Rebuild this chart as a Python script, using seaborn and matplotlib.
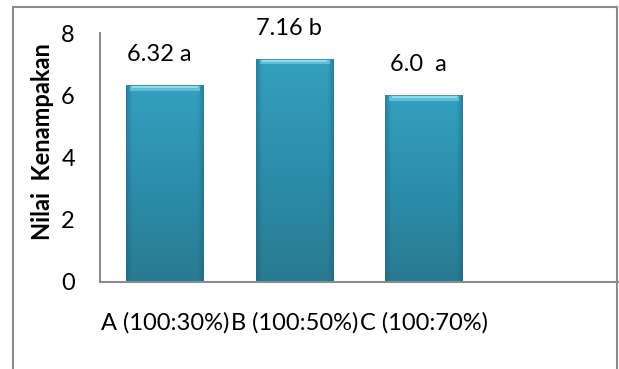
import matplotlib
matplotlib.use("Agg")
import matplotlib.pyplot as plt
import numpy as np
import pandas as pd
import seaborn as sns
from matplotlib.patches import Rectangle
from matplotlib.colors import LinearSegmentedColormap

categories = ["A (100:30%)", "B (100:50%)", "C (100:70%)"]
values = [6.32, 7.16, 6.0]
bar_labels = ["6.32 a", "7.16 b", "6.0  a"]
yticks = [0, 2, 4, 6, 8]
ylabel = "Nilai  Kenampakan"

sns.set_theme(style="white")
plt.rcParams["font.family"] = ["Lato", "DejaVu Sans"]

fig = plt.figure(figsize=(6.19, 3.69), dpi=100)
ax = fig.add_axes([100 / 619, 87 / 369, 519 / 619, 249 / 369])

df = pd.DataFrame({"cat": categories, "val": values})
sns.barplot(data=df, x="cat", y="val", ax=ax, color="#2c8eab", width=0.6,
            saturation=1, edgecolor="none")

# vertical gradient inside each bar
cmap = LinearSegmentedColormap.from_list("g", ["#297a91", "#2c8eab", "#34a0bf"])
grad = np.linspace(0, 1, 256).reshape(-1, 1)
hgrad = np.linspace(0, 1, 256).reshape(1, -1)
side = LinearSegmentedColormap.from_list(
    "s", [(0, (0.12, 0.35, 0.45, 0.45)), (0.08, (0.12, 0.35, 0.45, 0.0)),
          (0.92, (0.12, 0.35, 0.45, 0.0)), (1, (0.12, 0.35, 0.45, 0.45))])
for p in list(ax.patches):
    x0, y0 = p.get_x(), p.get_y()
    w, h = p.get_width(), p.get_height()
    im = ax.imshow(grad, cmap=cmap, origin="lower", aspect="auto",
                   extent=[x0, x0 + w, y0, y0 + h], zorder=p.get_zorder() + 0.1)
    im.set_clip_path(p)
    im2 = ax.imshow(hgrad, cmap=side, origin="lower", aspect="auto",
                    extent=[x0, x0 + w, y0, y0 + h], zorder=p.get_zorder() + 0.15)
    im2.set_clip_path(p)
    # light bevel at top
    ax.add_patch(Rectangle((x0 + w * 0.05, y0 + h - 0.17), w * 0.90, 0.15,
                           facecolor="#5cc0da", edgecolor="none",
                           zorder=p.get_zorder() + 0.2))
    ax.add_patch(Rectangle((x0 + w * 0.08, y0 + h - 0.08), w * 0.84, 0.06,
                           facecolor="#8fdcef", edgecolor="none",
                           zorder=p.get_zorder() + 0.25))

bars = ax.patches[:len(values)]
for p, lab in zip(bars, bar_labels):
    ax.annotate(lab, (p.get_x() + p.get_width() / 2, p.get_height()),
                xytext=(-4, 22), textcoords="offset points",
                ha="center", va="center", fontsize=17, color="#000000",
                annotation_clip=False)

ax.set_xlim(-0.5, 3.5)
ax.set_ylim(0, 8)
ax.set_yticks(yticks)
ax.set_yticklabels([str(t) for t in yticks], fontsize=17, color="#000000")
ax.tick_params(axis="y", length=0, pad=18)
ax.tick_params(axis="x", length=0, pad=22, labelsize=17, labelcolor="#000000")
ax.set_xlabel("")
ax.set_ylabel(ylabel, fontsize=17, fontweight="bold", color="#000000")
ax.yaxis.set_label_coords(-0.088, 0.565)

for s in ["top", "right"]:
    ax.spines[s].set_visible(False)
for s in ["left", "bottom"]:
    ax.spines[s].set_color("#8c8c8c")
    ax.spines[s].set_linewidth(1.5)

# outer chart frame
fig.patches.append(Rectangle((13 / 619, -0.1), 604 / 619, (362 / 369) + 0.1,
                             transform=fig.transFigure, fill=False,
                             edgecolor="#8c8c8c", linewidth=1.5))

fig.savefig("out.png", dpi=100)
